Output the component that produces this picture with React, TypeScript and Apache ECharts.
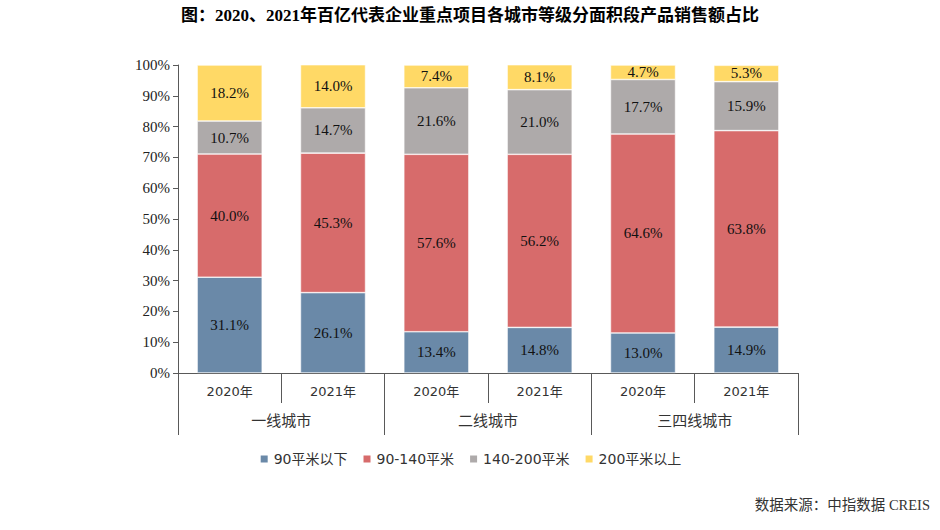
import React, { useEffect, useRef } from "react";
import * as echarts from "echarts";

const years = ["2020年", "2021年", "2020年", "2021年", "2020年", "2021年"];
const groups = ["一线城市", "二线城市", "三四线城市"];
const seriesNames = ["90平米以下", "90-140平米", "140-200平米", "200平米以上"];
const below90 = [31.1, 26.1, 13.4, 14.8, 13.0, 14.9];
const s90to140 = [40.0, 45.3, 57.6, 56.2, 64.6, 63.8];
const s140to200 = [10.7, 14.7, 21.6, 21.0, 17.7, 15.9];
const above200 = [18.2, 14.0, 7.4, 8.1, 4.7, 5.3];
const colors = ["#6A89A8", "#D76B6B", "#AEAAAA", "#FFD966"];

const serif = "'Liberation Serif', 'Times New Roman', 'Noto Sans CJK SC', serif";
const sans = "'DejaVu Sans', 'Noto Sans CJK SC', sans-serif";

export default function App() {
  const ref = useRef<HTMLDivElement>(null);
  useEffect(() => {
    if (!ref.current) return;
    const chart = echarts.init(ref.current, undefined, { renderer: "svg" });
    const data = [below90, s90to140, s140to200, above200];
    const axisColor = "#595959";
    chart.setOption({
      animation: false,
      backgroundColor: "#ffffff",
      title: {
        text: "图：2020、2021年百亿代表企业重点项目各城市等级分面积段产品销售额占比",
        left: "center",
        top: 2,
        textStyle: { fontFamily: serif, fontWeight: "bold", fontSize: 17, color: "#000" },
      },
      graphic: [
        {
          type: "text",
          right: 10,
          top: 498,
          style: { text: "数据来源：中指数据 CREIS", fontFamily: serif, fontSize: 14.5, fill: "#333" },
        },
      ],
      legend: {
        data: seriesNames,
        bottom: 59,
        left: "center",
        itemWidth: 9,
        itemHeight: 9,
        itemGap: 14,
        icon: "rect",
        textStyle: { fontFamily: sans, fontSize: 14, color: "#333" },
      },
      grid: { left: 178, right: 142, top: 65, bottom: 157 },
      xAxis: [
        {
          type: "category",
          data: years,
          position: "bottom",
          axisLine: { show: true, lineStyle: { color: axisColor, width: 1 } },
          axisTick: { show: true, length: 30, interval: 0, lineStyle: { color: axisColor } },
          axisLabel: { interval: 0, margin: 12, fontFamily: sans, fontSize: 13, color: "#333" },
        },
        {
          type: "category",
          data: groups,
          position: "bottom",
          axisLine: { show: false },
          axisTick: { show: true, length: 62, interval: 0, lineStyle: { color: axisColor } },
          axisLabel: { interval: 0, margin: 40, fontFamily: sans, fontSize: 15, color: "#333" },
        },
      ],
      yAxis: {
        type: "value",
        min: 0,
        max: 100,
        interval: 10,
        splitLine: { show: false },
        axisLine: { show: true, lineStyle: { color: axisColor } },
        axisTick: { show: true, length: 5, lineStyle: { color: axisColor } },
        axisLabel: { formatter: "{value}%", fontFamily: serif, fontSize: 15, color: "#222", margin: 8 },
      },
      series: seriesNames.map((name, i) => ({
        name,
        type: "bar",
        stack: "total",
        xAxisIndex: 0,
        barCategoryGap: "37%",
        data: data[i],
        itemStyle: { color: colors[i], borderColor: "#fff", borderWidth: 0.6 },
        label: {
          show: true,
          position: "inside",
          formatter: (p: any) => p.value.toFixed(1) + "%",
          fontFamily: serif,
          fontSize: 15,
          color: "#111",
        },
      })),
    });
    return () => chart.dispose();
  }, []);
  return (
    <div
      ref={ref}
      style={{ position: "fixed", left: 0, top: 0, width: 940, height: 530 }}
    />
  );
}
